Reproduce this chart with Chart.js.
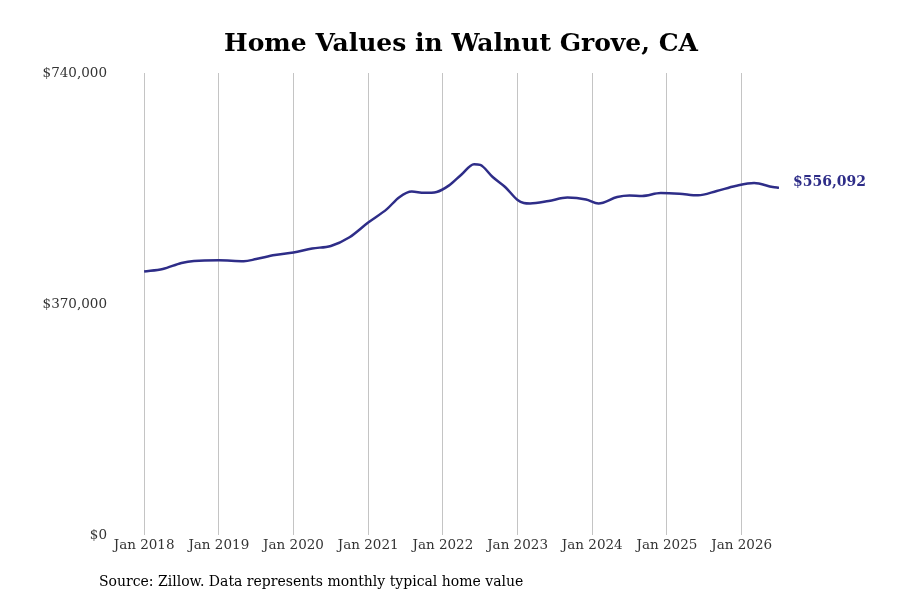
<!DOCTYPE html>
<html>

<head>
    <script src="https://cdn.jsdelivr.net/npm/chart.js@4.4.1/dist/chart.umd.min.js"></script>
    <style>
        body { margin: 0; background: #fff; }
        #wrap { width: 900px; height: 600px; }
    </style>
</head>

<body>
    <div id="wrap">
        <canvas id="myChart" width="900" height="600"></canvas>
    </div>
</body>

<script>

    // months counted from Jan 2018 (0 = Jan 2018)
    const months = [0, 3, 6, 8, 12, 16, 18, 21, 24, 27, 30, 33, 36, 39, 41, 43, 45, 47, 49, 51, 53, 54, 56, 58, 60, 61, 62, 65, 68, 71, 73, 76, 78, 80, 83, 86, 89, 92, 95, 98, 101, 102]
    const homeValues = [422000, 426000, 435700, 439000, 440000, 438500, 442000, 448500, 452500, 459000, 463000, 477000, 500500, 522000, 541000, 550000, 548000, 549500, 560000, 577500, 594000, 592800, 573400, 557400, 536600, 531800, 531000, 535000, 540600, 537400, 531000, 541400, 543800, 543000, 547800, 546700, 544100, 551000, 559000, 563800, 557400, 556092]

    const yearTicks = [0, 12, 24, 36, 48, 60, 72, 84, 96]
    const yearLabels = ['Jan 2018', 'Jan 2019', 'Jan 2020', 'Jan 2021', 'Jan 2022', 'Jan 2023', 'Jan 2024', 'Jan 2025', 'Jan 2026']
    const valueTicks = [0, 370000, 740000]

    const lineColor = '#2e2d88'
    const serif = "'DejaVu Serif', serif"

    const points = months.map((m, i) => ({ x: m, y: homeValues[i] }))

    // title, source and end label
    const textPlugin = {
        id: 'texts',
        afterDraw(chart) {
            const ctx = chart.ctx
            const xs = chart.scales.x
            const ys = chart.scales.y
            ctx.save()
            ctx.fillStyle = '#000'
            ctx.font = 'bold 25px ' + serif
            ctx.textAlign = 'center'
            ctx.textBaseline = 'middle'
            ctx.fillText('Home Values in Walnut Grove, CA', 461, 44)

            ctx.font = '14px ' + serif
            ctx.textAlign = 'left'
            ctx.fillText('Source: Zillow. Data represents monthly typical home value', 99, 582)

            const last = points[points.length - 1]
            ctx.fillStyle = lineColor
            ctx.font = 'bold 14px ' + serif
            ctx.fillText('$' + last.y.toLocaleString('en-US'), xs.getPixelForValue(last.x) + 14, ys.getPixelForValue(last.y) - 5)
            ctx.restore()
        }
    }

    const config = {
        type: 'line',
        data: {
            datasets: [{
                data: points,
                borderColor: lineColor,
                borderWidth: 2.5,
                pointRadius: 0,
                cubicInterpolationMode: 'monotone',
                fill: false
            }]
        },
        options: {
            responsive: false,
            animation: false,
            layout: { padding: { top: 73, left: 0, right: 121, bottom: 35 } },
            plugins: {
                legend: { display: false },
                title: { display: false },
                tooltip: { enabled: false }
            },
            scales: {
                x: {
                    type: 'linear',
                    min: -5,
                    max: 102,
                    afterFit: (scale) => { scale.height = 30 },
                    afterBuildTicks: (scale) => { scale.ticks = yearTicks.map(v => ({ value: v })) },
                    grid: { color: '#c4c4c4', lineWidth: 1, drawTicks: false },
                    border: { display: false },
                    ticks: {
                        padding: 2,
                        color: '#333',
                        font: { family: serif, size: 13.5 },
                        maxRotation: 0,
                        autoSkip: false,
                        callback: (v) => yearLabels[yearTicks.indexOf(v)]
                    }
                },
                y: {
                    min: 0,
                    max: 740000,
                    afterFit: (scale) => { scale.width = 113 },
                    afterBuildTicks: (scale) => { scale.ticks = valueTicks.map(v => ({ value: v })) },
                    grid: { display: false, drawTicks: false },
                    border: { display: false },
                    ticks: {
                        padding: 6,
                        color: '#333',
                        font: { family: serif, size: 13.5 },
                        callback: (v) => '$' + v.toLocaleString('en-US')
                    }
                }
            }
        },
        plugins: [textPlugin]
    }

    const myChart = new Chart(document.getElementById('myChart'), config)

</script>

</html>
